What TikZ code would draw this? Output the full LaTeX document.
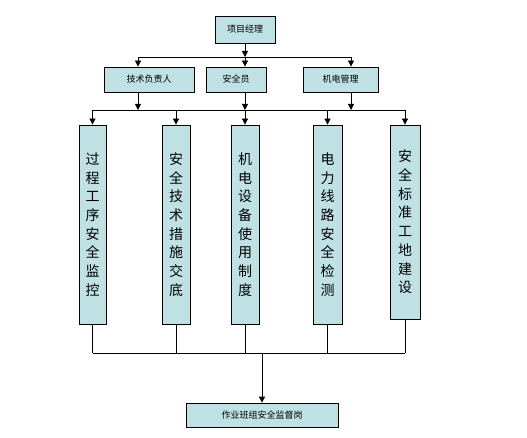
\documentclass[tikz,border=0pt]{standalone}
\usepackage{fontspec}
\newfontfamily\cjk{Noto Sans CJK SC}
\usetikzlibrary{arrows.meta}
\definecolor{boxfill}{RGB}{191,225,228}

\begin{document}
\begin{tikzpicture}[
    x=1pt, y=-1pt,
    box/.style={rectangle, draw=black, line width=0.8pt, fill=boxfill, inner sep=0pt,
                align=center, font=\cjk\fontsize{9}{11}\selectfont},
    tallbox/.style={box, minimum width=28pt, minimum height=199pt,
                    font=\cjk\fontsize{14}{18.7}\selectfont},
    flow/.style={-{Triangle[width=6pt,length=6pt]}, line width=0.8pt},
    bus/.style={line width=0.8pt}
]
\useasboundingbox (0,0) rectangle (527,438);
\node[box, minimum width=60pt, minimum height=27pt] (mgr) at (245,29.5) {项目经理};
\node[box, minimum width=90pt, minimum height=25pt] (tech) at (149,79.5) {技术负责人};
\node[box, minimum width=60pt, minimum height=25pt] (safe) at (236,79.5) {安全员};
\node[box, minimum width=75pt, minimum height=25pt] (elec) at (340.5,79.5) {机电管理};
\node[tallbox, minimum width=27pt] (t1) at (92.5,224.5) {过\\程\\工\\序\\安\\全\\监\\控};
\node[tallbox] (t2) at (176,224.5) {安\\全\\技\\术\\措\\施\\交\\底};
\node[tallbox] (t3) at (245,224.5) {机\\电\\设\\备\\使\\用\\制\\度};
\node[tallbox, minimum width=29pt] (t4) at (327.5,224.5) {电\\力\\线\\路\\安\\全\\检\\测};
\node[tallbox, minimum width=30pt, minimum height=194pt] (t5) at (405,222) {安\\全\\标\\准\\工\\地\\建\\设};
\node[box, minimum width=152pt, minimum height=24pt] (team) at (262,415) {作业班组安全监督岗};
% bus lines
\coordinate (bus1) at (0,57);
\coordinate (bus2) at (0,110);
\coordinate (bus3) at (0,353);
\coordinate (tapL) at (138,57);
\coordinate (tapR) at (351,57);
\draw[bus] (tapL) -- (tapR);
\draw[bus] (t1.north |- bus2) -- (t5.north |- bus2);
\draw[bus] (t1.south |- bus3) -- (t5.south |- bus3);
% manager to second row
\draw[flow] (mgr.south) -- (mgr.south |- bus1);
\draw[flow] (mgr.south |- bus1) -- (mgr.south |- safe.north);
\draw[flow] (tapL) -- (tapL |- tech.north);
\draw[flow] (tapR) -- (tapR |- elec.north);
% second row to bus
\draw[flow] (tapL |- tech.south) -- (tapL |- bus2);
\draw[flow] (mgr.south |- safe.south) -- (mgr.south |- bus2);
\draw[flow] (tapR |- elec.south) -- (tapR |- bus2);
% bus to columns
\draw[flow] (t1.north |- bus2) -- (t1.north); \draw[flow] (t2.north |- bus2) -- (t2.north);
\draw[flow] (t3.north |- bus2) -- (t3.north); \draw[flow] (t4.north |- bus2) -- (t4.north);
\draw[flow] (t5.north |- bus2) -- (t5.north);
% columns to team
\draw[bus] (t1.south) -- (t1.south |- bus3); \draw[bus] (t2.south) -- (t2.south |- bus3);
\draw[bus] (t3.south) -- (t3.south |- bus3); \draw[bus] (t4.south) -- (t4.south |- bus3);
\draw[bus] (t5.south) -- (t5.south |- bus3);
\draw[flow] (team.north |- bus3) -- (team.north);
\end{tikzpicture}
\end{document}
